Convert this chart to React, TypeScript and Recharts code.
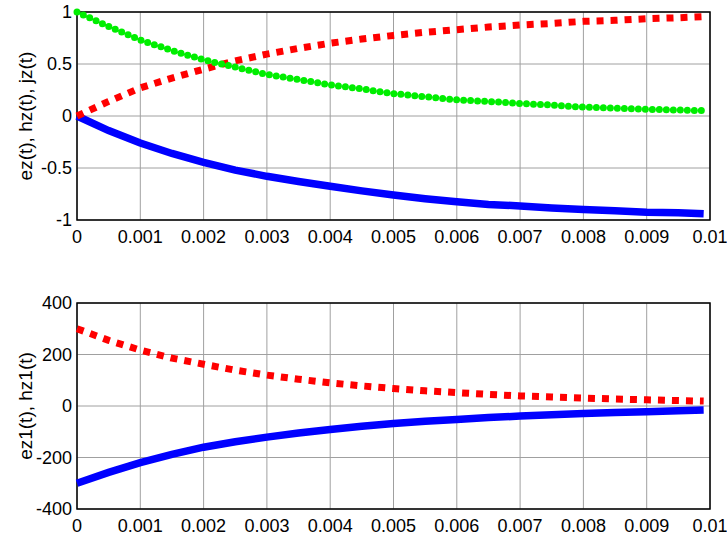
import { LineChart, Line, XAxis, YAxis, CartesianGrid, ReferenceArea } from 'recharts'

// time samples (s)
const timeS = [
  0, 0.0005, 0.001, 0.0015, 0.002, 0.0025, 0.003, 0.0035, 0.004, 0.0045, 0.005,
  0.0055, 0.006, 0.0065, 0.007, 0.0075, 0.008, 0.0085, 0.009, 0.0095, 0.0099,
]

// upper plot
const ez = [
  0, -0.14, -0.26, -0.36, -0.445, -0.52, -0.58, -0.63, -0.675, -0.72, -0.76,
  -0.795, -0.825, -0.85, -0.865, -0.885, -0.9, -0.91, -0.925, -0.93, -0.94,
]
const hz = [
  0, 0.14, 0.27, 0.365, 0.45, 0.53, 0.595, 0.65, 0.7, 0.74, 0.775,
  0.805, 0.83, 0.855, 0.875, 0.89, 0.91, 0.92, 0.935, 0.945, 0.955,
]
const jz = [
  1, 0.86, 0.73, 0.63, 0.54, 0.47, 0.4, 0.35, 0.3, 0.26, 0.215,
  0.185, 0.155, 0.14, 0.12, 0.105, 0.085, 0.075, 0.065, 0.057, 0.052,
]

// lower plot
const ez1 = [
  -300, -258, -220, -188, -160, -139, -121, -105, -91, -79, -68,
  -59, -52, -45, -39, -34, -29, -25, -22, -18, -16,
]
const hz1 = [
  300, 255, 217, 186, 162, 139, 120, 104, 90, 78, 68,
  59, 52, 45, 39, 35, 31, 27, 24, 21, 19,
]

const xTicks = [0, 0.001, 0.002, 0.003, 0.004, 0.005, 0.006, 0.007, 0.008, 0.009, 0.01]
const yTicksTop = [-1, -0.5, 0, 0.5, 1]
const yTicksBottom = [-400, -200, 0, 200, 400]

const topData = timeS.map((t, i) => ({ t, ez: ez[i], hz: hz[i], jz: jz[i] }))
const bottomData = timeS.map((t, i) => ({ t, ez1: ez1[i], hz1: hz1[i] }))

const FONT = '"Liberation Sans", Arial, sans-serif'
const tickStyle = { fill: '#000', fontSize: 18, fontFamily: FONT }

function AxisTitle({ text, viewBox }: { text: string; viewBox?: any }) {
  const cx = 25
  const cy = viewBox ? viewBox.y + viewBox.height / 2 : 0
  return (
    <text
      x={cx}
      y={cy}
      transform={`rotate(-90 ${cx} ${cy})`}
      textAnchor="middle"
      dominantBaseline="central"
      fontFamily={FONT}
      fontSize={19}
      fill="#000"
    >
      {text}
    </text>
  )
}

export default function App() {
  return (
    <div style={{ position: 'absolute', left: 0, top: 0, width: 727, height: 537, background: '#fff' }}>
      <LineChart width={727} height={270} data={topData} margin={{ top: 12, right: 17, left: 0, bottom: 20 }}>
        <CartesianGrid stroke="#a0a0a0" strokeWidth={1} />
        <XAxis
          dataKey="t"
          type="number"
          domain={[0, 0.01]}
          ticks={xTicks}
          tickFormatter={(v) => String(v)}
          tick={tickStyle}
          tickLine={false}
          tickSize={0}
          tickMargin={10}
          height={30}
          axisLine={false}
          interval={0}
        />
        <YAxis
          type="number"
          domain={[-1, 1]}
          ticks={yTicksTop}
          tick={tickStyle}
          tickLine={false}
          tickSize={0}
          tickMargin={5}
          width={77}
          axisLine={false}
          interval={0}
          label={<AxisTitle text="ez(t), hz(t), jz(t)" />}
        />
        <ReferenceArea x1={0} x2={0.01} y1={-1} y2={1} fill="none" stroke="#000" strokeWidth={1.5} ifOverflow="visible" />
        <Line dataKey="ez" stroke="#0000ff" strokeWidth={7.5} dot={false} isAnimationActive={false} />
        <Line
          dataKey="hz"
          stroke="#ff0000"
          strokeWidth={7}
          strokeDasharray="7 7"
          strokeLinecap="butt"
          dot={false}
          isAnimationActive={false}
        />
        <Line
          dataKey="jz"
          stroke="#00ee00"
          strokeWidth={7}
          strokeDasharray="0 7"
          strokeLinecap="round"
          dot={false}
          isAnimationActive={false}
        />
      </LineChart>
      <LineChart width={727} height={267} data={bottomData} margin={{ top: 33, right: 17, left: 0, bottom: 0 }}>
        <CartesianGrid stroke="#a0a0a0" strokeWidth={1} />
        <XAxis
          dataKey="t"
          type="number"
          domain={[0, 0.01]}
          ticks={xTicks}
          tickFormatter={(v) => String(v)}
          tick={tickStyle}
          tickLine={false}
          tickSize={0}
          tickMargin={10}
          height={28}
          axisLine={false}
          interval={0}
        />
        <YAxis
          type="number"
          domain={[-400, 400]}
          ticks={yTicksBottom}
          tick={tickStyle}
          tickLine={false}
          tickSize={0}
          tickMargin={5}
          width={77}
          axisLine={false}
          interval={0}
          label={<AxisTitle text="ez1(t), hz1(t)" />}
        />
        <ReferenceArea x1={0} x2={0.01} y1={-400} y2={400} fill="none" stroke="#000" strokeWidth={1.5} ifOverflow="visible" />
        <Line dataKey="ez1" stroke="#0000ff" strokeWidth={7.5} dot={false} isAnimationActive={false} />
        <Line
          dataKey="hz1"
          stroke="#ff0000"
          strokeWidth={7}
          strokeDasharray="7 7"
          strokeLinecap="butt"
          dot={false}
          isAnimationActive={false}
        />
      </LineChart>
    </div>
  )
}
